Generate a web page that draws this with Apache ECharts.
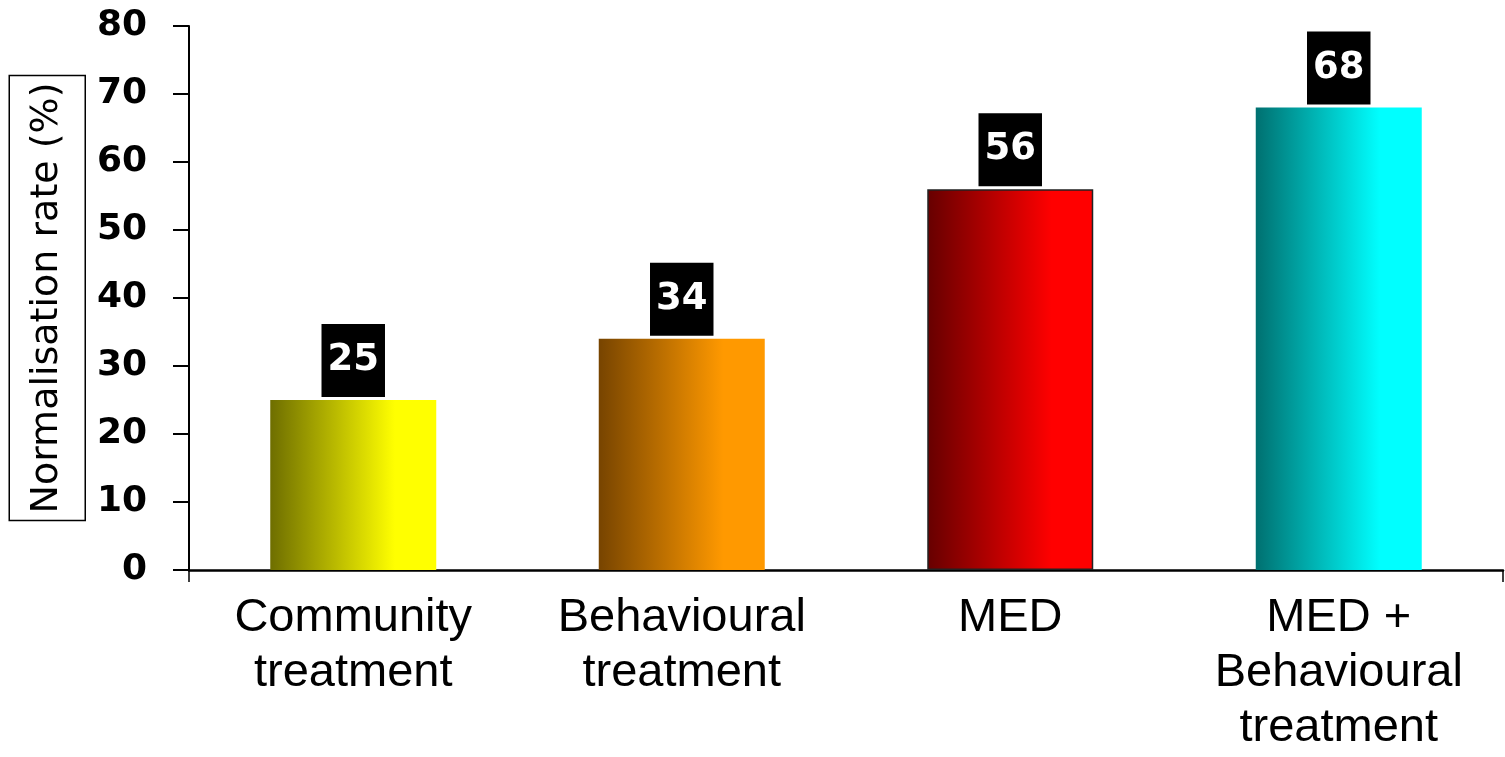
<!DOCTYPE html>
<html>
<head>
<meta charset="utf-8">
<script src="https://cdn.jsdelivr.net/npm/echarts@6/dist/echarts.min.js"></script>
<style>html,body{margin:0;padding:0;background:#fff}#c{width:1505px;height:757px}</style>
</head>
<body>
<div id="c"></div>
<script>
const categories = ['Community\ntreatment', 'Behavioural\ntreatment', 'MED', 'MED +\nBehavioural\ntreatment'];
const values = [25, 34, 56, 68];
const darkColors = ['#6e6e00', '#774400', '#660000', '#007070'];
const brightColors = ['#ffff00', '#ff9900', '#ff0000', '#00ffff'];
const yTicks = [0, 10, 20, 30, 40, 50, 60, 70, 80];
const yName = 'Normalisation rate (%)';

const chart = echarts.init(document.getElementById('c'));
const data = values.map((v, i) => ({
  value: v,
  itemStyle: {
    color: new echarts.graphic.LinearGradient(0, 0, 1, 0, [
      {offset: 0, color: darkColors[i]},
      {offset: 0.75, color: brightColors[i]},
      {offset: 1, color: brightColors[i]}
    ]),
    borderColor: i === 2 ? '#222' : 'transparent',
    borderWidth: i === 2 ? 1.5 : 0
  }
}));
chart.setOption({
  backgroundColor: '#fff',
  animation: false,
  grid: {left: 189, right: 2, top: 26, bottom: 187, containLabel: false},
  xAxis: {
    type: 'category',
    data: categories,
    axisLine: {lineStyle: {color: '#000', width: 2.5}},
    axisTick: {show: true, length: 12, interval: function (i) { return i === 0; }, lineStyle: {color: '#000', width: 1.5}},
    axisLabel: {
      interval: 0, margin: 21, color: '#000',
      fontFamily: 'Liberation Sans', fontSize: 47, lineHeight: 55
    }
  },
  yAxis: {
    type: 'value',
    min: yTicks[0], max: yTicks[yTicks.length - 1], interval: 10,
    splitLine: {show: false},
    axisLine: {show: true, lineStyle: {color: '#000', width: 2}},
    axisTick: {show: true, length: 16, lineStyle: {color: '#000', width: 2}},
    axisLabel: {
      margin: 42, color: '#000', fontFamily: 'DejaVu Sans', fontWeight: 'bold', fontSize: 36
    },
    name: yName,
    nameLocation: 'middle',
    nameGap: 98,
    nameTextStyle: {
      color: '#000', fontFamily: 'DejaVu Sans', fontSize: 38, lineHeight: 46,
      borderColor: '#000', borderWidth: 1.5, padding: [15, 7, 15, 7]
    }
  },
  series: [{
    type: 'bar',
    data: data,
    barWidth: 166,
    label: {
      show: true, position: 'top', distance: 3,
      color: '#fff', backgroundColor: '#000',
      fontFamily: 'DejaVu Sans', fontWeight: 'bold', fontSize: 37, lineHeight: 37,
      padding: [18, 6, 18, 6]
    }
  }]
});
</script>
</body>
</html>
